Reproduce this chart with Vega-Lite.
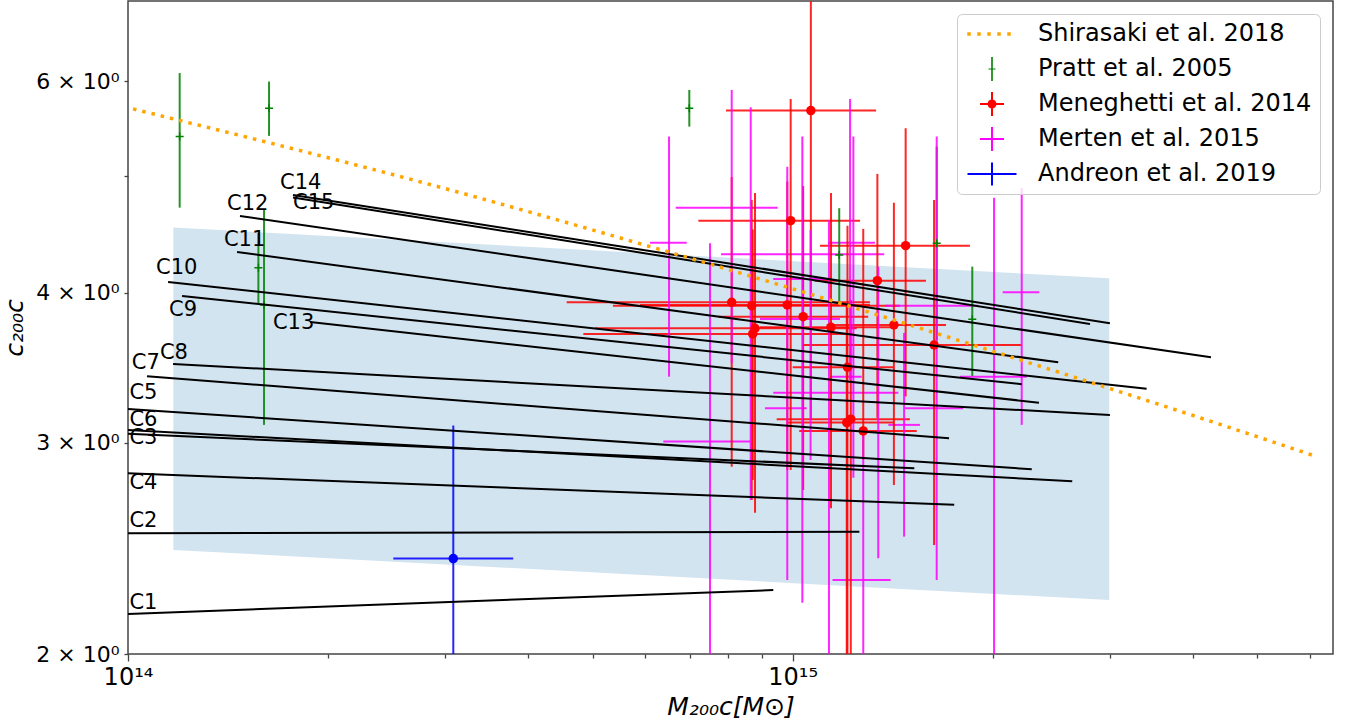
{
  "$schema": "https://vega.github.io/schema/vega-lite/v6.json",
  "width": 1205,
  "height": 653,
  "autosize": {"type": "none"},
  "padding": {"left": 128, "top": 1, "right": 19, "bottom": 70},
  "background": "white",
  "datasets": {
    "band": [
      {"M": 1.17e14, "lo": 2.442, "hi": 4.532},
      {"M": 2.994e15, "lo": 2.218, "hi": 4.112}
    ],
    "models": [
      {"name": "C1", "M1": 1e14, "c1": 2.160, "M2": 9.35e14, "c2": 2.261},
      {"name": "C2", "M1": 1e14, "c1": 2.521, "M2": 1.26e15, "c2": 2.529},
      {"name": "C3", "M1": 1e14, "c1": 3.051, "M2": 1.524e15, "c2": 2.856},
      {"name": "C4", "M1": 1e14, "c1": 2.829, "M2": 1.75e15, "c2": 2.663},
      {"name": "C5", "M1": 1e14, "c1": 3.200, "M2": 2.289e15, "c2": 2.851},
      {"name": "C6", "M1": 1e14, "c1": 3.074, "M2": 2.634e15, "c2": 2.786},
      {"name": "C7", "M1": 1.068e14, "c1": 3.407, "M2": 1.719e15, "c2": 3.025},
      {"name": "C8", "M1": 1.169e14, "c1": 3.489, "M2": 3.001e15, "c2": 3.164},
      {"name": "C9", "M1": 1.206e14, "c1": 3.975, "M2": 2.211e15, "c2": 3.356},
      {"name": "C10", "M1": 1.149e14, "c1": 4.083, "M2": 3.408e15, "c2": 3.327},
      {"name": "C11", "M1": 1.459e14, "c1": 4.325, "M2": 2.509e15, "c2": 3.500},
      {"name": "C12", "M1": 1.474e14, "c1": 4.635, "M2": 4.259e15, "c2": 3.534},
      {"name": "C13", "M1": 1.879e14, "c1": 3.781, "M2": 2.347e15, "c2": 3.239},
      {"name": "C14", "M1": 1.771e14, "c1": 4.825, "M2": 3.001e15, "c2": 3.772},
      {"name": "C15", "M1": 1.771e14, "c1": 4.802, "M2": 2.801e15, "c2": 3.767}
    ],
    "labels": [
      {"name": "C14", "M": 1.693e14, "c": 4.941},
      {"name": "C15", "M": 1.771e14, "c": 4.752},
      {"name": "C12", "M": 1.409e14, "c": 4.743},
      {"name": "C11", "M": 1.394e14, "c": 4.426},
      {"name": "C10", "M": 1.102e14, "c": 4.194},
      {"name": "C9", "M": 1.153e14, "c": 3.869},
      {"name": "C13", "M": 1.652e14, "c": 3.775},
      {"name": "C8", "M": 1.117e14, "c": 3.565},
      {"name": "C7", "M": 1.013e14, "c": 3.495},
      {"name": "C5", "M": 1.005e14, "c": 3.301},
      {"name": "C6", "M": 1.005e14, "c": 3.134},
      {"name": "C3", "M": 1.005e14, "c": 3.027},
      {"name": "C4", "M": 1.005e14, "c": 2.776},
      {"name": "C2", "M": 1.005e14, "c": 2.579},
      {"name": "C1", "M": 1.005e14, "c": 2.206}
    ],
    "shirasaki": [
      {"M": 1.0175e14, "c": 5.691},
      {"M": 3.051e14, "c": 4.872},
      {"M": 6.101e14, "c": 4.370},
      {"M": 9.57e14, "c": 4.060},
      {"M": 2.123e15, "c": 3.538},
      {"M": 4.498e15, "c": 3.094},
      {"M": 6.085e15, "c": 2.926}
    ],
    "obs": [
      {"source": "Pratt et al. 2005", "M": 1.196e14, "Mlo": 1.196e14, "Mhi": 1.196e14, "c": 5.397, "clo": 4.709, "chi": 6.096},
      {"source": "Pratt et al. 2005", "M": 1.630e14, "Mlo": 1.630e14, "Mhi": 1.630e14, "c": 5.699, "clo": 5.404, "chi": 5.998},
      {"source": "Pratt et al. 2005", "M": 1.571e14, "Mlo": 1.571e14, "Mhi": 1.571e14, "c": 4.197, "clo": 3.919, "chi": 4.486},
      {"source": "Pratt et al. 2005", "M": 1.602e14, "Mlo": 1.602e14, "Mhi": 1.602e14, "c": 3.907, "clo": 3.104, "chi": 4.688},
      {"source": "Pratt et al. 2005", "M": 6.99e14, "Mlo": 6.99e14, "Mhi": 6.99e14, "c": 5.699, "clo": 5.501, "chi": 5.902},
      {"source": "Pratt et al. 2005", "M": 1.175e15, "Mlo": 1.175e15, "Mhi": 1.175e15, "c": 4.301, "clo": 3.931, "chi": 4.704},
      {"source": "Pratt et al. 2005", "M": 1.647e15, "Mlo": 1.647e15, "Mhi": 1.647e15, "c": 4.398, "clo": 3.653, "chi": 5.294},
      {"source": "Pratt et al. 2005", "M": 1.863e15, "Mlo": 1.863e15, "Mhi": 1.863e15, "c": 3.801, "clo": 3.410, "chi": 4.205},
      {"source": "Meneghetti et al. 2014", "M": 1.065e15, "Mlo": 7.938e14, "Mhi": 1.335e15, "c": 5.673, "clo": 3.135, "chi": 7.871},
      {"source": "Meneghetti et al. 2014", "M": 9.931e14, "Mlo": 7.212e14, "Mhi": 1.263e15, "c": 4.593, "clo": 2.847, "chi": 5.799},
      {"source": "Meneghetti et al. 2014", "M": 8.096e14, "Mlo": 4.571e14, "Mhi": 1.307e15, "c": 3.927, "clo": 2.865, "chi": 4.995},
      {"source": "Meneghetti et al. 2014", "M": 8.677e14, "Mlo": 5.365e14, "Mhi": 1.450e15, "c": 3.901, "clo": 2.688, "chi": 4.779},
      {"source": "Meneghetti et al. 2014", "M": 9.815e14, "Mlo": 5.892e14, "Mhi": 1.307e15, "c": 3.907, "clo": 2.847, "chi": 4.950},
      {"source": "Meneghetti et al. 2014", "M": 1.037e15, "Mlo": 7.729e14, "Mhi": 1.299e15, "c": 3.820, "clo": 2.740, "chi": 4.909},
      {"source": "Meneghetti et al. 2014", "M": 8.777e14, "Mlo": 5.042e14, "Mhi": 1.248e15, "c": 3.736, "clo": 2.623, "chi": 4.844},
      {"source": "Meneghetti et al. 2014", "M": 8.707e14, "Mlo": 4.842e14, "Mhi": 1.234e15, "c": 3.696, "clo": 2.793, "chi": 4.516},
      {"source": "Meneghetti et al. 2014", "M": 1.142e15, "Mlo": 8.930e14, "Mhi": 1.417e15, "c": 3.743, "clo": 2.645, "chi": 4.842},
      {"source": "Meneghetti et al. 2014", "M": 1.420e15, "Mlo": 1.125e15, "Mhi": 1.701e15, "c": 3.760, "clo": 2.766, "chi": 4.754},
      {"source": "Meneghetti et al. 2014", "M": 1.479e15, "Mlo": 1.099e15, "Mhi": 1.848e15, "c": 4.378, "clo": 3.277, "chi": 5.484},
      {"source": "Meneghetti et al. 2014", "M": 1.341e15, "Mlo": 1.080e15, "Mhi": 1.587e15, "c": 4.093, "clo": 3.146, "chi": 5.024},
      {"source": "Meneghetti et al. 2014", "M": 1.632e15, "Mlo": 1.037e15, "Mhi": 2.211e15, "c": 3.618, "clo": 2.465, "chi": 4.779},
      {"source": "Meneghetti et al. 2014", "M": 1.209e15, "Mlo": 1.0e15, "Mhi": 1.417e15, "c": 3.467, "clo": 1.85, "chi": 4.549},
      {"source": "Meneghetti et al. 2014", "M": 1.223e15, "Mlo": 9.461e14, "Mhi": 1.501e15, "c": 3.138, "clo": 1.85, "chi": 3.945},
      {"source": "Meneghetti et al. 2014", "M": 1.206e15, "Mlo": 9.8e14, "Mhi": 1.420e15, "c": 3.118, "clo": 1.85, "chi": 3.90},
      {"source": "Meneghetti et al. 2014", "M": 1.277e15, "Mlo": 1.023e15, "Mhi": 1.537e15, "c": 3.068, "clo": 2.902, "chi": 4.521},
      {"source": "Merten et al. 2015", "M": 6.516e14, "Mlo": 6.101e14, "Mhi": 6.927e14, "c": 4.403, "clo": 3.405, "chi": 5.397},
      {"source": "Merten et al. 2015", "M": 8.096e14, "Mlo": 6.669e14, "Mhi": 9.494e14, "c": 4.709, "clo": 3.495, "chi": 5.902},
      {"source": "Merten et al. 2015", "M": 7.510e14, "Mlo": 6.388e14, "Mhi": 8.626e14, "c": 3.006, "clo": 1.85, "chi": 4.398},
      {"source": "Merten et al. 2015", "M": 8.647e14, "Mlo": 7.802e14, "Mhi": 1.373e15, "c": 4.307, "clo": 2.688, "chi": 5.710},
      {"source": "Merten et al. 2015", "M": 9.815e14, "Mlo": 8.930e14, "Mhi": 1.178e15, "c": 3.803, "clo": 2.305, "chi": 5.094},
      {"source": "Merten et al. 2015", "M": 1.034e15, "Mlo": 9.085e14, "Mhi": 1.050e15, "c": 3.205, "clo": 2.207, "chi": 5.397},
      {"source": "Merten et al. 2015", "M": 1.064e15, "Mlo": 9.349e14, "Mhi": 1.145e15, "c": 4.107, "clo": 2.902, "chi": 4.512},
      {"source": "Merten et al. 2015", "M": 1.134e15, "Mlo": 9.349e14, "Mhi": 1.442e15, "c": 3.302, "clo": 1.85, "chi": 4.599},
      {"source": "Merten et al. 2015", "M": 1.220e15, "Mlo": 1.131e15, "Mhi": 1.330e15, "c": 4.403, "clo": 3.383, "chi": 5.799},
      {"source": "Merten et al. 2015", "M": 1.234e15, "Mlo": 1.138e15, "Mhi": 1.270e15, "c": 3.405, "clo": 2.804, "chi": 5.397},
      {"source": "Merten et al. 2015", "M": 1.277e15, "Mlo": 1.148e15, "Mhi": 1.404e15, "c": 2.305, "clo": 1.85, "chi": 3.056},
      {"source": "Merten et al. 2015", "M": 1.345e15, "Mlo": 1.345e15, "Mhi": 1.345e15, "c": 3.256, "clo": 2.403, "chi": 4.205},
      {"source": "Merten et al. 2015", "M": 1.471e15, "Mlo": 1.393e15, "Mhi": 1.554e15, "c": 3.104, "clo": 2.505, "chi": 3.703},
      {"source": "Merten et al. 2015", "M": 1.647e15, "Mlo": 1.377e15, "Mhi": 1.902e15, "c": 3.901, "clo": 2.305, "chi": 5.397},
      {"source": "Merten et al. 2015", "M": 1.647e15, "Mlo": 1.476e15, "Mhi": 1.806e15, "c": 3.205, "clo": 3.205, "chi": 3.205},
      {"source": "Merten et al. 2015", "M": 2.009e15, "Mlo": 1.785e15, "Mhi": 2.250e15, "c": 3.405, "clo": 1.85, "chi": 4.800},
      {"source": "Merten et al. 2015", "M": 2.211e15, "Mlo": 2.070e15, "Mhi": 2.350e15, "c": 4.003, "clo": 3.104, "chi": 4.888},
      {"source": "Andreon et al. 2019", "M": 3.086e14, "Mlo": 2.507e14, "Mhi": 3.798e14, "c": 2.402, "clo": 1.85, "chi": 3.100}
    ],
    "legendrows": [
      {"source": "Shirasaki et al. 2018", "M": 5e13, "c": 1.5},
      {"source": "Pratt et al. 2005", "M": 5e13, "c": 1.5},
      {"source": "Meneghetti et al. 2014", "M": 5e13, "c": 1.5},
      {"source": "Merten et al. 2015", "M": 5e13, "c": 1.5},
      {"source": "Andreon et al. 2019", "M": 5e13, "c": 1.5}
    ]
  },
  "resolve": {
    "scale": {"color": "independent", "shape": "independent"},
    "legend": {"color": "independent", "shape": "independent"}
  },
  "layer": [
    {
      "data": {"name": "band"},
      "mark": {"type": "area", "color": "#1f77b4", "opacity": 0.2, "clip": true},
      "encoding": {
        "x": {"field": "M", "type": "quantitative", "title": "M₂₀₀c[M⊙]",
          "scale": {"type": "log", "domain": [1e14, 6.5e15], "nice": false},
          "axis": {
            "values": [1e14, 2e14, 3e14, 4e14, 5e14, 6e14, 7e14, 8e14, 9e14, 1e15, 2e15, 3e15, 4e15, 5e15, 6e15],
            "labelExpr": "datum.value == 1e14 ? '10¹⁴' : (datum.value == 1e15 ? '10¹⁵' : '')",
            "tickSize": {"condition": {"test": "datum.value == 1e14 || datum.value == 1e15", "value": 7}, "value": 4},
            "tickWidth": 1.3, "tickColor": "#444", "grid": false, "domain": false,
            "labelFontSize": 24, "labelPadding": 4, "labelColor": "#000", "labelOverlap": false, "labelFlush": false,
            "titleFontSize": 25, "titleFontStyle": "italic", "titleFontWeight": "normal", "titlePadding": 5, "titleColor": "#000"
          }
        },
        "y": {"field": "hi", "type": "quantitative", "title": "c₂₀₀c",
          "scale": {"type": "log", "domain": [2, 7], "nice": false},
          "axis": {
            "values": [2, 3, 4, 5, 6],
            "labelExpr": "datum.value == 5 ? '' : datum.value + ' × 10⁰'",
            "tickSize": 4, "tickWidth": 1.3, "tickColor": "#444", "grid": false, "domain": false,
            "labelFontSize": 22, "labelPadding": 5, "labelColor": "#000", "labelOverlap": false,
            "titleFontSize": 25, "titleFontStyle": "italic", "titleFontWeight": "normal", "titlePadding": 8, "titleColor": "#000"
          }
        },
        "y2": {"field": "lo"}
      }
    },
    {
      "data": {"name": "obs"},
      "mark": {"type": "rule", "strokeWidth": 2, "opacity": 0.85, "clip": true},
      "encoding": {
        "x": {"field": "Mlo", "type": "quantitative", "title": "M₂₀₀c[M⊙]", "scale": {"type": "log", "domain": [1e14, 6.5e15], "nice": false}},
        "x2": {"field": "Mhi"},
        "y": {"field": "c", "type": "quantitative", "title": "c₂₀₀c", "scale": {"type": "log", "domain": [2, 7], "nice": false}},
        "color": {"field": "source", "type": "nominal", "legend": null,
          "scale": {"domain": ["Shirasaki et al. 2018", "Pratt et al. 2005", "Meneghetti et al. 2014", "Merten et al. 2015", "Andreon et al. 2019"],
                    "range": ["#ffa500", "#008000", "#ff0000", "#ff00ff", "#0000ff"]}}
      }
    },
    {
      "data": {"name": "obs"},
      "mark": {"type": "rule", "strokeWidth": 2, "opacity": 0.85, "clip": true},
      "encoding": {
        "x": {"field": "M", "type": "quantitative", "title": "M₂₀₀c[M⊙]", "scale": {"type": "log", "domain": [1e14, 6.5e15], "nice": false}},
        "y": {"field": "clo", "type": "quantitative", "title": "c₂₀₀c", "scale": {"type": "log", "domain": [2, 7], "nice": false}},
        "y2": {"field": "chi"},
        "color": {"field": "source", "type": "nominal", "legend": null,
          "scale": {"domain": ["Shirasaki et al. 2018", "Pratt et al. 2005", "Meneghetti et al. 2014", "Merten et al. 2015", "Andreon et al. 2019"],
                    "range": ["#ffa500", "#008000", "#ff0000", "#ff00ff", "#0000ff"]}}
      }
    },
    {
      "data": {"name": "obs"},
      "transform": [{"filter": "datum.source == 'Meneghetti et al. 2014' || datum.source == 'Andreon et al. 2019'"}],
      "mark": {"type": "circle", "size": 90, "opacity": 1, "clip": true},
      "encoding": {
        "x": {"field": "M", "type": "quantitative", "title": "M₂₀₀c[M⊙]", "scale": {"type": "log", "domain": [1e14, 6.5e15], "nice": false}},
        "y": {"field": "c", "type": "quantitative", "title": "c₂₀₀c", "scale": {"type": "log", "domain": [2, 7], "nice": false}},
        "color": {"field": "source", "type": "nominal", "legend": null,
          "scale": {"domain": ["Shirasaki et al. 2018", "Pratt et al. 2005", "Meneghetti et al. 2014", "Merten et al. 2015", "Andreon et al. 2019"],
                    "range": ["#ffa500", "#008000", "#ff0000", "#ff00ff", "#0000ff"]}}
      }
    },
    {
      "data": {"name": "obs"},
      "transform": [{"filter": "datum.source == 'Pratt et al. 2005'"}],
      "mark": {"type": "point", "shape": "M-1,0H1M0,-1V1", "size": 64, "filled": false, "strokeWidth": 1.5, "opacity": 1, "color": "#008000", "clip": true},
      "encoding": {
        "x": {"field": "M", "type": "quantitative", "title": "M₂₀₀c[M⊙]", "scale": {"type": "log", "domain": [1e14, 6.5e15], "nice": false}},
        "y": {"field": "c", "type": "quantitative", "title": "c₂₀₀c", "scale": {"type": "log", "domain": [2, 7], "nice": false}}
      }
    },
    {
      "data": {"name": "models"},
      "mark": {"type": "rule", "color": "#000000", "strokeWidth": 2, "clip": true},
      "encoding": {
        "x": {"field": "M1", "type": "quantitative", "title": "M₂₀₀c[M⊙]", "scale": {"type": "log", "domain": [1e14, 6.5e15], "nice": false}},
        "x2": {"field": "M2"},
        "y": {"field": "c1", "type": "quantitative", "title": "c₂₀₀c", "scale": {"type": "log", "domain": [2, 7], "nice": false}},
        "y2": {"field": "c2"}
      }
    },
    {
      "data": {"name": "shirasaki"},
      "mark": {"type": "line", "color": "#ffa500", "strokeWidth": 3.5, "strokeDash": [3.5, 6], "interpolate": "monotone", "clip": true},
      "encoding": {
        "x": {"field": "M", "type": "quantitative", "title": "M₂₀₀c[M⊙]", "scale": {"type": "log", "domain": [1e14, 6.5e15], "nice": false}},
        "y": {"field": "c", "type": "quantitative", "title": "c₂₀₀c", "scale": {"type": "log", "domain": [2, 7], "nice": false}}
      }
    },
    {
      "data": {"name": "labels"},
      "mark": {"type": "text", "align": "left", "baseline": "middle", "fontSize": 21, "font": "DejaVu Sans", "color": "#000000"},
      "encoding": {
        "x": {"field": "M", "type": "quantitative", "title": "M₂₀₀c[M⊙]", "scale": {"type": "log", "domain": [1e14, 6.5e15], "nice": false}},
        "y": {"field": "c", "type": "quantitative", "title": "c₂₀₀c", "scale": {"type": "log", "domain": [2, 7], "nice": false}},
        "text": {"field": "name"}
      }
    },
    {
      "data": {"name": "legendrows"},
      "mark": {"type": "point", "filled": true, "opacity": 1, "size": 400, "strokeWidth": 0, "clip": true},
      "encoding": {
        "x": {"field": "M", "type": "quantitative", "title": "M₂₀₀c[M⊙]", "scale": {"type": "log", "domain": [1e14, 6.5e15], "nice": false}},
        "y": {"field": "c", "type": "quantitative", "title": "c₂₀₀c", "scale": {"type": "log", "domain": [2, 7], "nice": false}},
        "color": {"field": "source", "type": "nominal",
          "scale": {"domain": ["Shirasaki et al. 2018", "Pratt et al. 2005", "Meneghetti et al. 2014", "Merten et al. 2015", "Andreon et al. 2019"],
                    "range": ["#ffa500", "#008000", "#ff0000", "#ff00ff", "#0000ff"]},
          "legend": {"title": null, "orient": "top-right", "offset": 13, "padding": 8, "symbolOffset": 15, "labelOffset": 34,
                     "labelFontSize": 24, "labelFont": "DejaVu Sans", "labelColor": "#000", "rowPadding": 11, "labelLimit": 400,
                     "strokeColor": "#cccccc", "fillColor": "rgba(255,255,255,0.8)", "cornerRadius": 5, "symbolSize": 400, "symbolStrokeWidth": 0}},
        "shape": {"field": "source", "type": "nominal",
          "scale": {"domain": ["Shirasaki et al. 2018", "Pratt et al. 2005", "Meneghetti et al. 2014", "Merten et al. 2015", "Andreon et al. 2019"],
                    "range": [
                      "M-2.475,-0.175h0.35v0.35h-0.35Z M-1.475,-0.175h0.35v0.35h-0.35Z M-0.475,-0.175h0.35v0.35h-0.35Z M0.525,-0.175h0.35v0.35h-0.35Z M1.525,-0.175h0.35v0.35h-0.35Z",
                      "M-0.08,-1.2h0.16v2.4h-0.16Z M-0.35,-0.06h0.7v0.12h-0.7Z",
                      "M-1.2,-0.1h2.4v0.2h-2.4Z M-0.1,-1.2h0.2v2.4h-0.2Z M-0.45,0a0.45,0.45 0 1,1 0.9,0a0.45,0.45 0 1,1 -0.9,0Z",
                      "M-1.2,-0.1h2.4v0.2h-2.4Z M-0.1,-1.2h0.2v2.4h-0.2Z",
                      "M-2.45,-0.1h4.9v0.2h-4.9Z M-0.1,-1.15h0.2v2.3h-0.2Z"
                    ]},
          "legend": {"title": null, "orient": "top-right", "offset": 13, "padding": 8, "symbolOffset": 15, "labelOffset": 34,
                     "labelFontSize": 24, "labelFont": "DejaVu Sans", "labelColor": "#000", "rowPadding": 11, "labelLimit": 400,
                     "strokeColor": "#cccccc", "fillColor": "rgba(255,255,255,0.8)", "cornerRadius": 5, "symbolSize": 400, "symbolStrokeWidth": 0}}
      }
    }
  ],
  "config": {
    "font": "DejaVu Sans",
    "view": {"stroke": "#444444", "strokeWidth": 1.5},
    "axis": {"labelFont": "DejaVu Sans", "titleFont": "DejaVu Sans"}
  }
}
